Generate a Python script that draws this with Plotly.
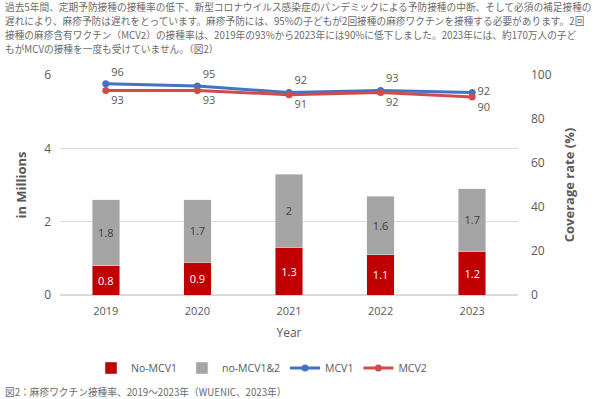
import plotly.graph_objects as go

years = ["2019", "2020", "2021", "2022", "2023"]
no_mcv1 = [0.8, 0.9, 1.3, 1.1, 1.2]
no_mcv12 = [1.8, 1.7, 2.0, 1.6, 1.7]
mcv1 = [96, 95, 92, 93, 92]
mcv2 = [93, 93, 91, 92, 90]

intro_lines = [
    "過去5年間、定期予防接種の接種率の低下、新型コロナウイルス感染症のパンデミックによる予防接種の中断、そして必須の補足接種の",
    "遅れにより、麻疹予防は遅れをとっています。麻疹予防には、95%の子どもが2回接種の麻疹ワクチンを接種する必要があります。2回",
    "接種の麻疹含有ワクチン（MCV2）の接種率は、2019年の93%から2023年には90%に低下しました。2023年には、約170万人の子ど",
    "もがMCVの接種を一度も受けていません。（図2）",
]
caption = "図2：麻疹ワクチン接種率、2019～2023年（WUENIC、2023年）"

font = "Open Sans, Noto Sans CJK JP, sans-serif"
jp_font = "Noto Sans CJK JP, sans-serif"
gray_txt = "#595959"

L, R, T, B = 60, 82, 75, 104
W, H = 600, 399
pw, ph = W - L - R, H - T - B

fig = go.Figure()
fig.add_trace(go.Bar(x=years, y=no_mcv1, name="No-MCV1", marker_color="#C00000",
                     text=[str(v) for v in no_mcv1], textposition="inside", insidetextanchor="middle",
                     textfont=dict(color="white", size=11)))
fig.add_trace(go.Bar(x=years, y=no_mcv12, name="no-MCV1&2", marker_color="#A5A5A5",
                     text=[f"{v:g}" for v in no_mcv12], textposition="inside", insidetextanchor="middle",
                     textfont=dict(color="#404040", size=11)))
fig.add_trace(go.Scatter(x=years, y=mcv1, name="MCV1", yaxis="y2", mode="lines+markers+text",
                         line=dict(color="#4472C4", width=3), marker=dict(size=7, color="#4472C4"),
                         text=[str(v) for v in mcv1], cliponaxis=False,
                         textposition=["top right", "top right", "top right", "top right", "middle right"],
                         textfont=dict(color=gray_txt, size=11)))
fig.add_trace(go.Scatter(x=years, y=mcv2, name="MCV2", yaxis="y2", mode="lines+markers+text",
                         line=dict(color="#D24B4B", width=3), marker=dict(size=7, color="#D24B4B"),
                         text=[str(v) for v in mcv2], cliponaxis=False,
                         textposition="bottom right",
                         textfont=dict(color=gray_txt, size=11)))

annotations = []
for i, line in enumerate(intro_lines):
    annotations.append(dict(text=line, xref="paper", yref="paper",
                            x=-(L - 3) / pw, y=1 + (T - (7 + 14 * i)) / ph,
                            xanchor="left", yanchor="middle", showarrow=False, align="left",
                            font=dict(size=9.7, color="#6b6b6b", family=jp_font)))
annotations.append(dict(text=caption, xref="paper", yref="paper",
                        x=-(L - 3) / pw, y=-(392 - (H - B)) / ph,
                        xanchor="left", yanchor="middle", showarrow=False,
                        font=dict(size=9.7, color="#6b6b6b", family=jp_font)))

fig.update_layout(
    width=W, height=H, barmode="stack", bargap=0.7,
    paper_bgcolor="white", plot_bgcolor="white",
    font=dict(family=font, color=gray_txt, size=12),
    margin=dict(l=L, r=R, t=T, b=B, autoexpand=False),
    xaxis=dict(title=dict(text="Year", font=dict(size=12, color=gray_txt), standoff=11),
               showgrid=False, showline=False, ticks="", tickfont=dict(size=11),
               ticklabelstandoff=8),
    yaxis=dict(title=dict(text="<b>in Millions</b>", font=dict(size=13, color=gray_txt), standoff=14),
               range=[0, 6], dtick=2, gridcolor="#D9D9D9", zeroline=True, zerolinecolor="#D9D9D9",
               showline=False, tickfont=dict(size=12), ticklabelstandoff=8),
    yaxis2=dict(title=dict(text="<b>Coverage rate (%)</b>", font=dict(size=13, color=gray_txt), standoff=14),
                range=[0, 100], dtick=20, overlaying="y", side="right", showgrid=False,
                zeroline=False, tickfont=dict(size=12), ticklabelstandoff=12),
    legend=dict(orientation="h", x=0.44, xanchor="center", yref="container", y=1 - 368 / H,
                yanchor="middle", font=dict(size=10.5, color=gray_txt), traceorder="normal",
                itemwidth=30),
    annotations=annotations,
)
fig.write_html("out.html", config={"displayModeBar": False},
               post_script="document.body.style.margin='0';document.body.style.padding='0';")
